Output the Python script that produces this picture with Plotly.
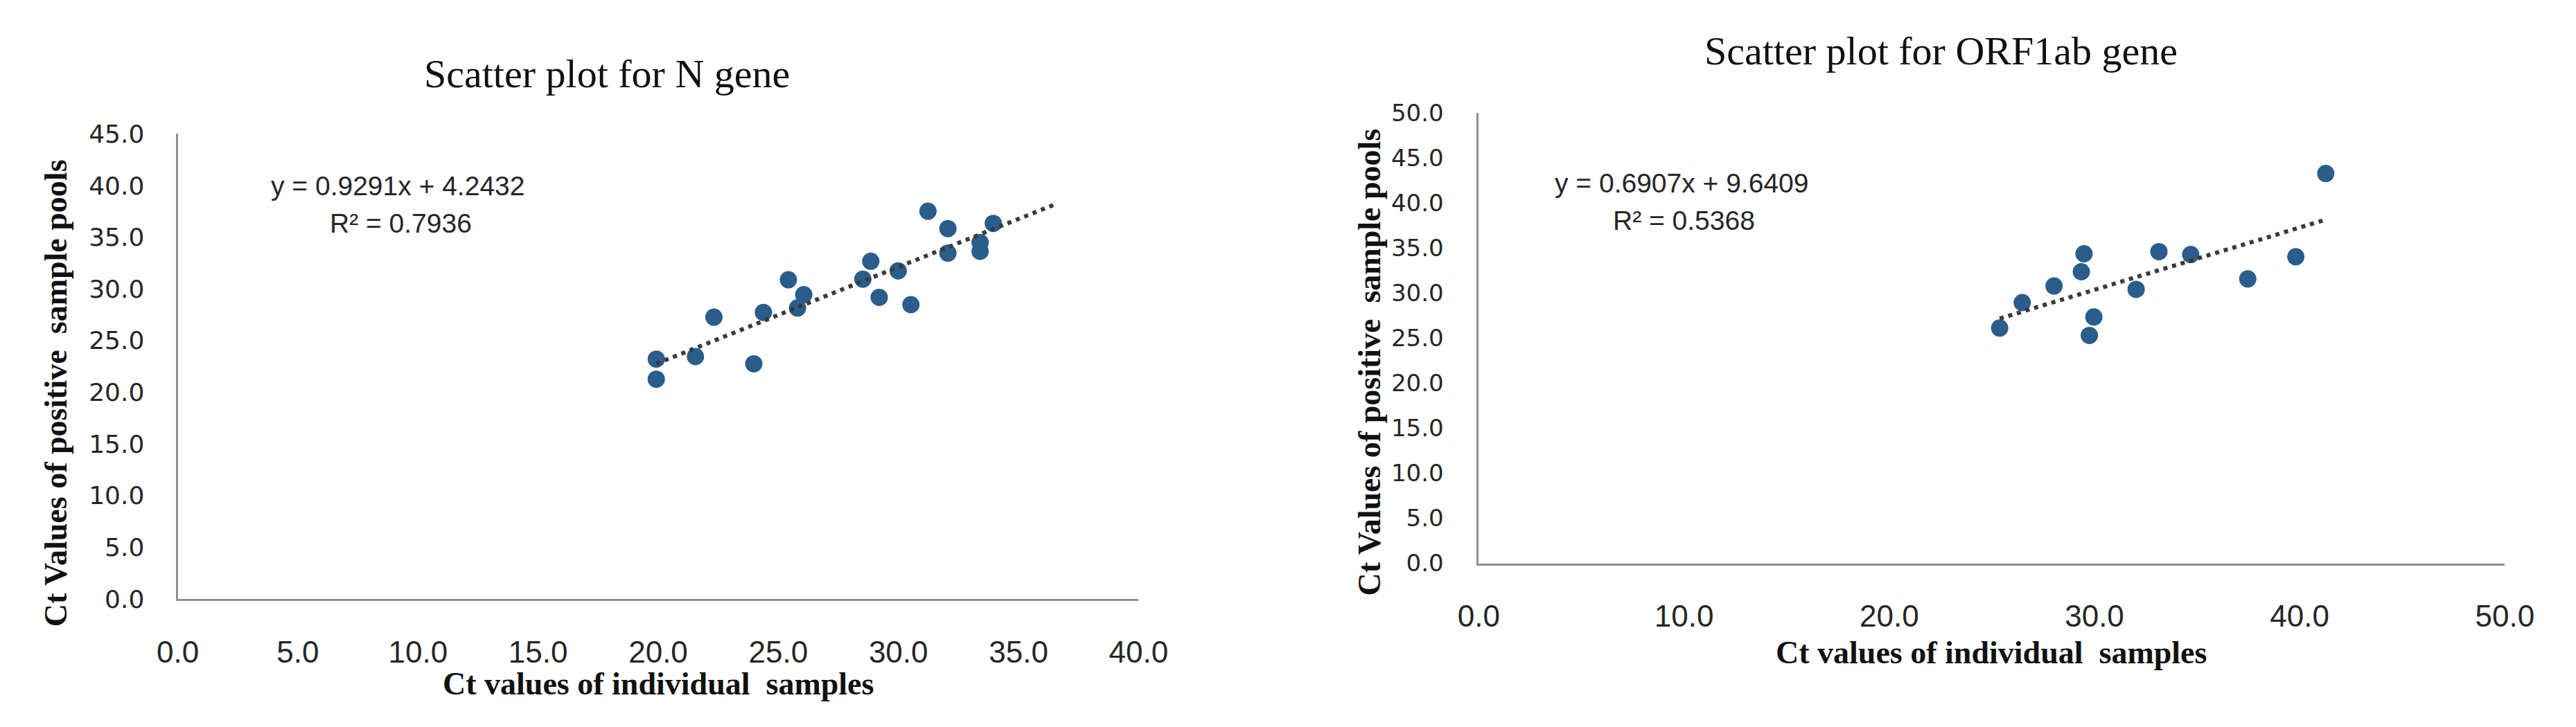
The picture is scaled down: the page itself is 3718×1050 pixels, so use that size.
import plotly.graph_objects as go

# ---------------- data ----------------
n_x = [19.92, 19.92, 21.55, 22.32, 23.98, 24.38, 25.42, 26.06, 25.80, 28.52,
       28.85, 29.20, 29.99, 30.52, 31.23, 32.06, 32.06, 33.40, 33.40, 33.95]
n_y = [23.20, 21.26, 23.45, 27.26, 22.75, 27.72, 30.88, 29.44, 28.15, 30.94,
       32.67, 29.18, 31.74, 28.47, 37.51, 35.83, 33.46, 34.49, 33.63, 36.33]
n_slope, n_intercept = 0.9291, 4.2432
n_forward = 2.55          # trendline forward forecast (x units)
n_eq = "y = 0.9291x + 4.2432"
n_r2 = "R² = 0.7936"

orf_x = [25.38, 26.48, 28.03, 29.49, 29.36, 29.97, 29.75, 32.03, 33.14, 34.69,
         37.47, 39.81, 41.27]
orf_y = [26.11, 28.94, 30.78, 34.36, 32.36, 27.34, 25.30, 30.41, 34.60, 34.28,
         31.57, 34.03, 43.27]
orf_slope, orf_intercept = 0.6907, 9.6409
orf_forward = 0.0
orf_eq = "y = 0.6907x + 9.6409"
orf_r2 = "R² = 0.5368"

titles = ["Scatter plot for N gene", "Scatter plot for ORF1ab gene"]
x_title = "Ct values of individual&nbsp; samples"
y_title = "Ct Values of positive&nbsp; sample pools"

# ---------------- layout helpers ----------------
W, H = 3718, 1050
def px(x):
    return x / W
def py(y):
    return 1 - y / H

MARKER = "#2a5d8b"
TREND = "#3a3a3a"
AXIS = "#8f8f8f"
TXT = "#262626"

fig = go.Figure()

def add_panel(xs, ys, slope, intercept, fwd, xa, ya):
    fig.add_trace(go.Scatter(x=xs, y=ys, mode="markers", xaxis=xa, yaxis=ya,
                             marker=dict(color=MARKER, size=25), showlegend=False,
                             hoverinfo="x+y"))
    x0 = min(xs)
    x1 = max(xs) + fwd
    fig.add_trace(go.Scatter(x=[x0, x1], y=[slope * x0 + intercept, slope * x1 + intercept],
                             mode="lines", xaxis=xa, yaxis=ya, showlegend=False,
                             line=dict(color=TREND, width=6, dash="6px,7px"),
                             hoverinfo="skip"))

add_panel(n_x, n_y, n_slope, n_intercept, n_forward, "x", "y")
add_panel(orf_x, orf_y, orf_slope, orf_intercept, orf_forward, "x2", "y2")

xtick_font = dict(family="Liberation Sans, Arial, sans-serif", size=44, color=TXT)

common_x = dict(showgrid=False, zeroline=False, showline=True, linecolor=AXIS, linewidth=3,
                ticks="outside", ticklen=36, tickcolor="rgba(0,0,0,0)",
                tickformat=".1f", tickfont=xtick_font, fixedrange=True)
common_y = dict(showgrid=False, zeroline=False, showline=True, linecolor=AXIS, linewidth=3,
                ticks="outside", tickcolor="rgba(0,0,0,0)",
                tickformat=".1f", fixedrange=True)

fig.update_layout(
    width=W, height=H,
    margin=dict(l=0, r=0, t=0, b=0),
    paper_bgcolor="white", plot_bgcolor="white",
    xaxis=dict(common_x, domain=[px(222), px(1637)], range=[0, 40], dtick=5, anchor="y"),
    yaxis=dict(common_y, domain=[py(871), py(172)], range=[0, 45], dtick=5, anchor="x",
               ticklen=38,
               tickfont=dict(family="DejaVu Sans, Verdana, sans-serif", size=36, color=TXT)),
    xaxis2=dict(common_x, domain=[px(2138), px(3649)], range=[0, 50], dtick=10, anchor="y2"),
    yaxis2=dict(common_y, domain=[py(817.5), py(140.5)], range=[0, 50], dtick=5, anchor="x2",
                ticklen=41,
                tickfont=dict(family="DejaVu Sans, Verdana, sans-serif", size=34, color=TXT)),
)

ann = []
title_font = dict(family="Liberation Serif, Times New Roman, serif", size=58, color="#111111")
axis_font = dict(family="Liberation Serif, Times New Roman, serif", size=46, color="#111111",
                 weight="bold")
eq_font = dict(family="Liberation Sans, Arial, sans-serif", size=39, color=TXT)

def A(text, x, y, font, angle=0):
    ann.append(dict(text=text, x=px(x), y=py(y), xref="paper", yref="paper",
                    xanchor="center", yanchor="middle", showarrow=False,
                    font=font, textangle=angle))

A(titles[0], 854, 82, title_font)
A(titles[1], 2819, 47, title_font)
A(x_title, 929, 999, axis_font)
A(x_title, 2893, 952, axis_font)
A(y_title, 42, 562, axis_font, -90)
A(y_title, 1977, 515, axis_font, -90)
A(n_eq, 546, 250, eq_font)
A(n_r2, 550, 306, eq_font)
A(orf_eq, 2437, 246, eq_font)
A(orf_r2, 2440, 302, eq_font)

fig.update_layout(annotations=ann)
fig.write_html("out.html")
